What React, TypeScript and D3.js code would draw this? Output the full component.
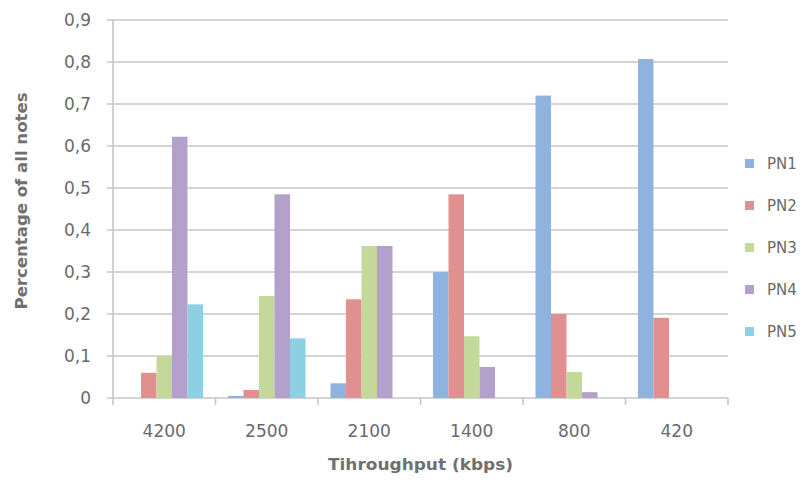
import React from "react";
import * as d3 from "d3";

const categories = ["4200", "2500", "2100", "1400", "800", "420"];
const seriesNames = ["PN1", "PN2", "PN3", "PN4", "PN5"];
const pn1 = [0, 0.005, 0.035, 0.3, 0.72, 0.807];
const pn2 = [0.06, 0.019, 0.235, 0.485, 0.2, 0.191];
const pn3 = [0.099, 0.243, 0.362, 0.147, 0.062, 0];
const pn4 = [0.622, 0.485, 0.362, 0.074, 0.014, 0];
const pn5 = [0.223, 0.142, 0, 0, 0, 0];
const seriesValues = [pn1, pn2, pn3, pn4, pn5];
const colors = ["#8fb3df", "#e0908e", "#c3d899", "#b3a1cc", "#8ed0e3"];
const yTicks = [0, 0.1, 0.2, 0.3, 0.4, 0.5, 0.6, 0.7, 0.8, 0.9];

export default function App() {
  const W = 807, H = 480;
  const left = 113, right = 728, top = 20, bottom = 398;
  const x = d3.scaleBand<string>().domain(categories).range([left, right]).paddingInner(0).paddingOuter(0);
  const inner = d3.scaleBand<string>().domain(seriesNames).range([12.5, x.bandwidth() - 12.5]).padding(0);
  const y = d3.scaleLinear().domain([0, 0.9]).range([bottom, top]);
  const fmt = (v: number) => (v === 0 ? "0" : d3.format(".1f")(v).replace(".", ","));
  const txt = "#6a6a6a";
  const font = "'DejaVu Sans', Verdana, sans-serif";
  return (
    <svg width={W} height={H} style={{ position: "absolute", left: 0, top: 0 }} fontFamily={font}>
      <rect width={W} height={H} fill="#fff" />
      {yTicks.map((t) => (
        <g key={t}>
          <line x1={left - 6} x2={right} y1={y(t)} y2={y(t)} stroke="#c6c6c6" strokeWidth={1.6} />
          <text x={91} y={y(t) + 6} textAnchor="end" fontSize={17} fill={txt}>{fmt(t)}</text>
        </g>
      ))}
      <line x1={left} x2={left} y1={top} y2={bottom} stroke="#c6c6c6" strokeWidth={1.6} />
      {categories.map((c) => (
        <line key={c} x1={x(c)!} x2={x(c)!} y1={bottom} y2={bottom + 7} stroke="#c6c6c6" strokeWidth={1.6} />
      ))}
      <line x1={right} x2={right} y1={bottom} y2={bottom + 7} stroke="#c6c6c6" strokeWidth={1.6} />
      {seriesValues.map((vals, si) =>
        vals.map((v, ci) => (
          <rect
            key={si + "-" + ci}
            x={x(categories[ci])! + inner(seriesNames[si])!}
            width={inner.bandwidth()}
            y={y(v)}
            height={bottom - y(v)}
            fill={colors[si]}
          />
        ))
      )}
      {categories.map((c) => (
        <text key={c} x={x(c)! + x.bandwidth() / 2} y={437} textAnchor="middle" fontSize={17} fill={txt}>{c}</text>
      ))}
      <text x={(left + right) / 2} y={470} textAnchor="middle" fontSize={15} fontWeight="bold" fill="#707070" textLength={185} lengthAdjust="spacingAndGlyphs">Tihroughput (kbps)</text>
      <text transform={`translate(27,201) rotate(-90)`} textAnchor="middle" fontSize={15} fontWeight="bold" fill="#707070" textLength={217} lengthAdjust="spacingAndGlyphs">Percentage of all notes</text>
      {seriesNames.map((s, i) => (
        <g key={s}>
          <rect x={745} y={159 + i * 42} width={9} height={9} fill={colors[i]} />
          <text x={767} y={169 + i * 42} fontSize={15} fill={txt}>{s}</text>
        </g>
      ))}
    </svg>
  );
}
